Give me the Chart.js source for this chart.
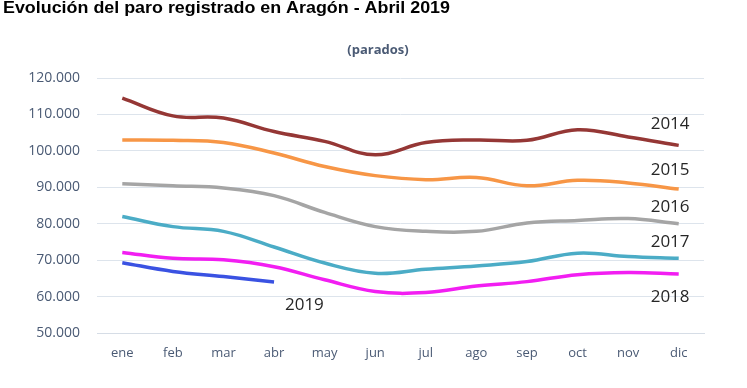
<!DOCTYPE html>
<html>
<head>
<meta charset="utf-8">
<script src="https://cdn.jsdelivr.net/npm/chart.js@4/dist/chart.umd.min.js"></script>
<style>
  html, body { margin: 0; padding: 0; background: #ffffff; }
  #wrap { position: relative; width: 747px; height: 388px; }
</style>
</head>
<body>
<div id="wrap"><canvas id="c" width="747" height="388"></canvas></div>
<script>
// ---- Data ----
const months = ['ene','feb','mar','abr','may','jun','jul','ago','sep','oct','nov','dic'];
const years = ['2014','2015','2016','2017','2018','2019'];
const s2014 = [114500,109600,109000,105300,102600,98900,102300,103000,102900,105800,103800,101500];
const s2015 = [103000,102900,102300,99400,95700,93200,92100,92700,90400,91900,91200,89500];
const s2016 = [91000,90400,89800,87700,83100,79200,77900,77900,80200,80900,81400,80000];
const s2017 = [82000,79200,77900,73600,69200,66400,67500,68400,69600,71900,71000,70500];
const s2018 = [72100,70500,70100,68200,64600,61400,61100,62900,64100,66000,66600,66200];
const s2019 = [69300,66900,65500,64000];
const yTicks = [50000,60000,70000,80000,90000,100000,110000,120000];
const titleText = 'Evolución del paro registrado en Aragón - Abril 2019';
const unitText = '(parados)';

// label anchors (category index, value) for the year labels
const labelIdx = [10.83, 10.83, 10.83, 10.83, 10.83, 3.6];
const labelVal = [107200, 94800, 84650, 75030, 59900, 57700];

const colors = ['#953735','#f79646','#a5a5a5','#4bacc6','#f21ef2','#3a52e2'];
const seriesList = [s2014, s2015, s2016, s2017, s2018, s2019];

const fmt = v => v.toLocaleString('de-DE', {minimumFractionDigits: 0});
const tickColor = '#4a5a74';

const textPlugin = {
  id: 'texts',
  afterDraw(chart) {
    const ctx = chart.ctx;
    const xs = chart.scales.x, ys = chart.scales.y;
    ctx.save();
    ctx.fillStyle = '#000000';
    ctx.font = 'bold 16px "Liberation Sans", Arial, sans-serif';
    ctx.textAlign = 'left';
    ctx.textBaseline = 'alphabetic';
    const w = ctx.measureText(titleText).width;
    ctx.save();
    ctx.translate(3, 13);
    ctx.scale(447 / w, 1);
    ctx.fillText(titleText, 0, 0);
    ctx.restore();
    ctx.textBaseline = 'middle';
    ctx.fillStyle = tickColor;
    ctx.font = 'bold 13px "Open Sans", sans-serif';
    ctx.textAlign = 'center';
    ctx.fillText(unitText, 378, 50);
    ctx.fillStyle = '#262626';
    ctx.font = '17px "Open Sans", sans-serif';
    years.forEach((y, i) => {
      const px = xs.left + (labelIdx[i] + 0.5) * (xs.width / months.length);
      ctx.fillText(y, px, ys.getPixelForValue(labelVal[i]));
    });
    ctx.restore();
  }
};

new Chart(document.getElementById('c'), {
  type: 'line',
  data: {
    labels: months,
    datasets: years.map((y, i) => ({
      label: y,
      data: seriesList[i],
      borderColor: colors[i],
      backgroundColor: colors[i],
      borderWidth: 3.5,
      pointRadius: 0,
      tension: 0.4,
      fill: false
    }))
  },
  options: {
    responsive: false,
    animation: false,
    layout: { padding: { top: 78, right: 43, left: 0, bottom: 0 } },
    plugins: { legend: { display: false }, tooltip: { enabled: false }, title: { display: false } },
    scales: {
      x: {
        offset: true,
        grid: { display: false, drawTicks: false },
        border: { display: true, color: '#d6dde6', width: 1 },
        ticks: { color: tickColor, font: { family: '"Open Sans", sans-serif', size: 13 }, padding: 12, maxRotation: 0 },
        afterFit(scale) { scale.height = 55; }
      },
      y: {
        min: 50000, max: 120000,
        afterBuildTicks(scale) { scale.ticks = yTicks.map(v => ({ value: v })); },
        grid: { color: '#dde4ec', lineWidth: 1, drawTicks: false },
        border: { display: false },
        ticks: { color: tickColor, font: { family: '"Open Sans", sans-serif', size: 14 }, padding: 17, callback: v => fmt(v) },
        afterFit(scale) { scale.width = 97; }
      }
    }
  },
  plugins: [textPlugin]
});
</script>
</body>
</html>
